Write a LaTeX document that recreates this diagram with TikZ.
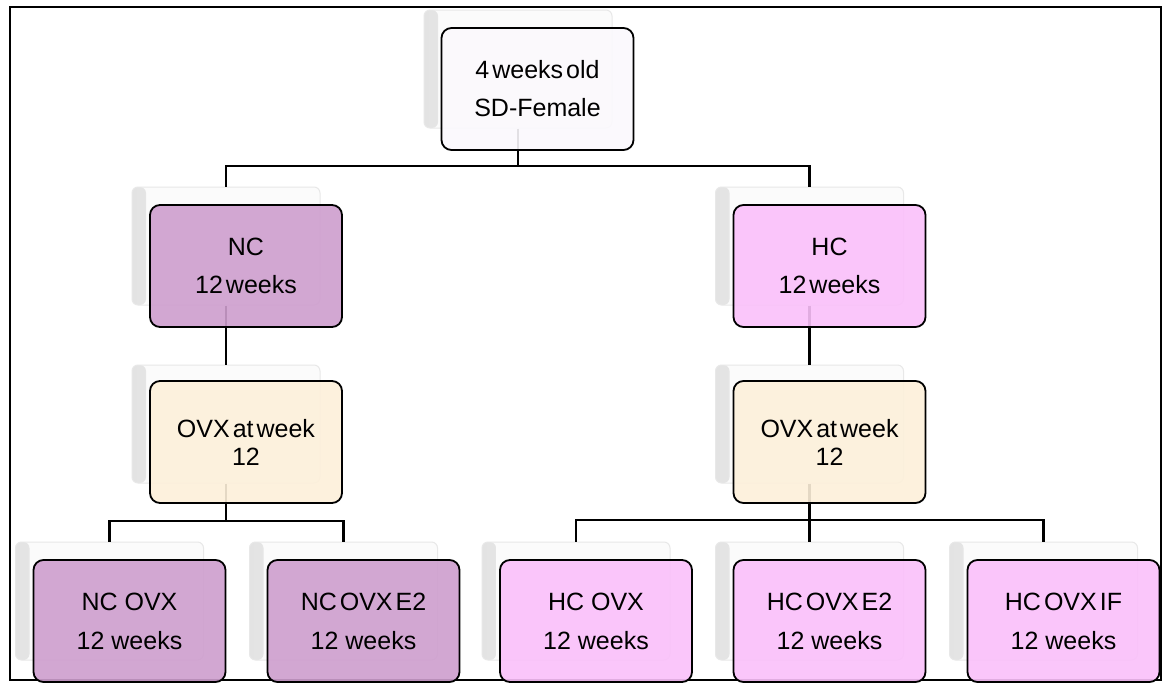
\documentclass[tikz,border=0pt]{standalone}
\usepackage{fontspec}
\setmainfont{Liberation Sans}
\newcommand\tsp{\hspace{3pt}}
\definecolor{ncfill}{HTML}{CE9ECE}
\definecolor{hcfill}{HTML}{FAC0FA}
\definecolor{ovxfill}{HTML}{FDF0DA}
\definecolor{topfill}{HTML}{FBF9FD}
\tikzset{
  shadowbox/.style={rectangle, rounded corners=6pt, minimum width=188pt, minimum height=118pt,
    draw=gray!18, line width=1pt, fill=gray!3,
    path picture={\shade[left color=gray!22, right color=gray!3]
      (path picture bounding box.south west) rectangle ([xshift=14pt]path picture bounding box.north west);}},
  frontbox/.style={rectangle, rounded corners=10pt, minimum width=192pt, minimum height=122pt,
    draw=black, line width=1.8pt, fill opacity=0.9, text opacity=1, align=center,
    font=\fontsize{25}{38}\selectfont},
  link/.style={draw=black, line width=2.2pt},
}
\begin{document}
\begin{tikzpicture}[x=1pt,y=-1pt]
\useasboundingbox (0,0) rectangle (1171,688);
\fill[white] (0,0) rectangle (1171,688);
% frame
\draw[line width=2pt] (10,7) rectangle (1161,680);
% shadows
\node[shadowbox] (topS) at (518,69) {};
\node[shadowbox] (ncS) at (226,246) {};
\node[shadowbox] (hcS) at (809.5,246) {};
\node[shadowbox] (ovxlS) at (226,424) {};
\node[shadowbox] (ovxrS) at (809.5,424) {};
\node[shadowbox] (ncovxS) at (109.5,601) {};
\node[shadowbox] (ncovxeS) at (343.5,601) {};
\node[shadowbox] (hcovxS) at (576,601) {};
\node[shadowbox] (hcovxeS) at (809.5,601) {};
\node[shadowbox] (hcovxfS) at (1043.5,601) {};
% connectors
\coordinate (busA) at (0,166);
\coordinate (busL) at (0,521);
\coordinate (busR) at (0,520);
\draw[link] (topS.south) -- (topS.south |- busA) -| (ncS.north);
\draw[link] (topS.south |- busA) -| (hcS.north);
\draw[link] (ncS.south) -- (ovxlS.north);
\draw[link] (hcS.south) -- (ovxrS.north);
\draw[link] (ovxlS.south) -- (ovxlS.south |- busL) -| (ncovxS.north);
\draw[link] (ovxlS.south |- busL) -| (ncovxeS.north);
\draw[link] (ovxrS.south) -- (hcovxeS.north);
\draw[link] (ovxrS.south |- busR) -| (hcovxS.north);
\draw[link] (ovxrS.south |- busR) -| (hcovxfS.north);
% front boxes
\node[frontbox, fill=topfill] (top) at (537.5,89) {4\tsp weeks\tsp old\\SD-Female};
\node[frontbox, fill=ncfill] (nc) at (246,266) {NC\\12\tsp weeks};
\node[frontbox, fill=hcfill] (hc) at (829.5,266) {HC\\12\tsp weeks};
\node[frontbox, fill=ovxfill, font=\fontsize{25}{28}\selectfont] (ovxl) at (246,442) {OVX\tsp at\tsp week\\12};
\node[frontbox, fill=ovxfill, font=\fontsize{25}{28}\selectfont] (ovxr) at (829.5,442) {OVX\tsp at\tsp week\\12};
\node[frontbox, fill=ncfill, font=\fontsize{25}{39}\selectfont] (ncovx) at (129.5,621) {NC OVX\\12 weeks};
\node[frontbox, fill=ncfill, font=\fontsize{25}{39}\selectfont] (ncovxe) at (363.5,621) {NC\tsp OVX\tsp E2\\12 weeks};
\node[frontbox, fill=hcfill, font=\fontsize{25}{39}\selectfont] (hcovx) at (596,621) {HC OVX\\12 weeks};
\node[frontbox, fill=hcfill, font=\fontsize{25}{39}\selectfont] (hcovxe) at (829.5,621) {HC\tsp OVX\tsp E2\\12 weeks};
\node[frontbox, fill=hcfill, font=\fontsize{25}{39}\selectfont] (hcovxf) at (1063.5,621) {HC\tsp OVX\tsp IF\\12 weeks};
\end{tikzpicture}
\end{document}
